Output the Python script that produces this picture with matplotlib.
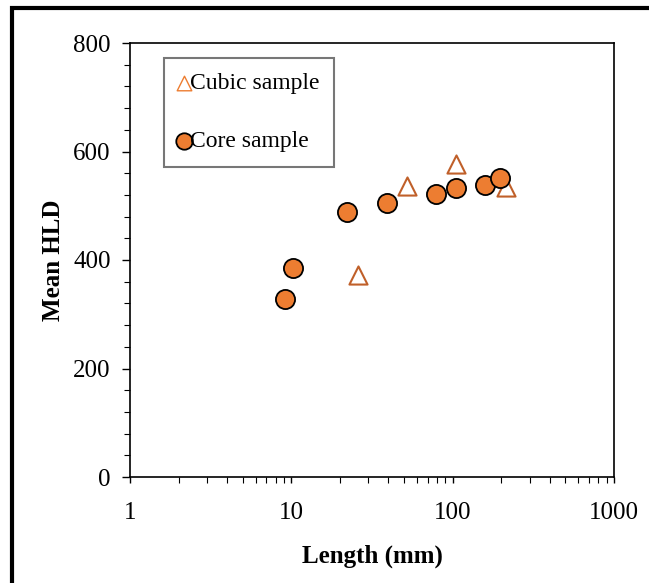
import matplotlib
matplotlib.use("Agg")
import matplotlib.pyplot as plt
from matplotlib.patches import Rectangle
from matplotlib.ticker import FixedLocator, LogLocator, NullFormatter, MultipleLocator

plt.rcParams['font.family'] = ['Liberation Serif', 'DejaVu Serif']

cubic_length = [25.9, 52, 105, 214]
cubic_hld = [372, 536, 577, 535]
core_length = [9.1, 10.2, 22.1, 39.2, 79, 105, 159, 197]
core_hld = [328, 385, 488, 505, 522, 533, 538, 551]

x_ticks = [1, 10, 100, 1000]
x_labels = ['1', '10', '100', '1000']
y_ticks = [0, 200, 400, 600, 800]

fig = plt.figure(figsize=(6.49, 5.83), dpi=100)
ax = fig.add_axes([130/649, 1-477/583, 484/649, 434/583])

orange = '#ED7D31'
ax.scatter(cubic_length, cubic_hld, marker='^', s=170, facecolor='white',
           edgecolor='#C0602A', linewidth=1.5, zorder=3, label='Cubic sample')
ax.scatter(core_length, core_hld, marker='o', s=190, facecolor=orange,
           edgecolor='black', linewidth=1.3, zorder=4, label='Core sample')

ax.set_xscale('log')
ax.set_xlim(1, 1000)
ax.set_ylim(0, 800)
ax.xaxis.set_major_locator(FixedLocator(x_ticks))
ax.set_xticklabels(x_labels)
ax.xaxis.set_minor_locator(LogLocator(base=10, subs=range(2, 10)))
ax.xaxis.set_minor_formatter(NullFormatter())
ax.set_yticks(y_ticks)
ax.yaxis.set_minor_locator(MultipleLocator(40))

ax.tick_params(which='major', direction='out', length=6, width=1, labelsize=18, pad=8)
ax.tick_params(which='minor', direction='out', length=4, width=0.8)
ax.tick_params(axis='x', which='major', length=4, pad=14)
ax.tick_params(axis='x', which='minor', length=4)
for sp in ax.spines.values():
    sp.set_linewidth(1.2)

ax.set_xlabel('Length (mm)', fontsize=18, fontweight='bold', labelpad=15)
ax.set_ylabel('Mean HLD', fontsize=18, fontweight='bold', labelpad=6)

leg = ax.legend(loc='upper left', bbox_to_anchor=(0.070, 0.966), fontsize=17,
                frameon=True, fancybox=False, handletextpad=0.0, handlelength=0.5,
                labelspacing=1.55, borderpad=0.62, borderaxespad=0)
leg.get_frame().set_edgecolor('#555555')
leg.get_frame().set_linewidth(1.5)
handles = leg.legend_handles
handles[0].set_sizes([110])
handles[0].set_edgecolor(orange)
handles[0].set_linewidth(1.0)
handles[1].set_sizes([140])

fig.patches.append(Rectangle((12/649, -0.2), 1.2, 1.2 - 8/583, transform=fig.transFigure,
                             fill=False, edgecolor='black', linewidth=3, figure=fig))

fig.savefig('out.png', dpi=100)
